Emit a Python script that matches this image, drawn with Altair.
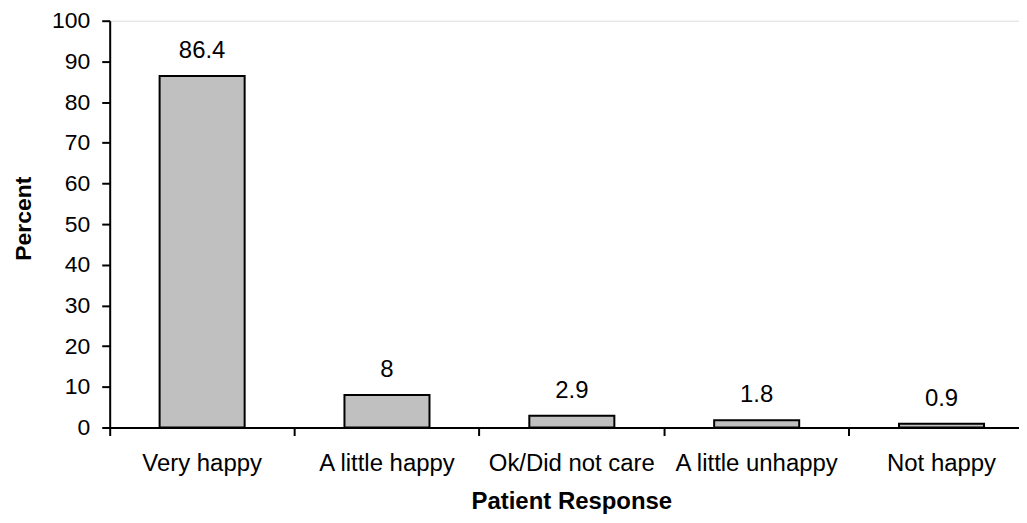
import altair as alt
import pandas as pd

categories = ["Very happy", "A little happy", "Ok/Did not care", "A little unhappy", "Not happy"]
percents = [86.4, 8, 2.9, 1.8, 0.9]
labels = ["86.4", "8", "2.9", "1.8", "0.9"]

df = pd.DataFrame({"cat": categories, "pct": percents, "lab": labels})

FONT = "Liberation Sans"
FS = 24

x = alt.X("cat:N", sort=categories, title="Patient Response",
          scale=alt.Scale(paddingInner=0, paddingOuter=0, range=[0, 927]),
          axis=alt.Axis(labelAngle=0, bandPosition=0, tickSize=8, tickWidth=2,
                        domainWidth=2, domainColor="black", tickColor="black",
                        labelPadding=16, labelFontSize=FS, labelFont=FONT,
                        labelColor="black", titleFont=FONT, titleFontSize=FS,
                        titleFontWeight="bold", titlePadding=14, titleColor="black",
                        titleX=463, titleAnchor="middle", grid=False))
y = alt.Y("pct:Q", title="Percent",
          scale=alt.Scale(domain=[0, 100], nice=False),
          axis=alt.Axis(values=list(range(0, 101, 10)), tickSize=8, tickWidth=2,
                        domainWidth=2, domainColor="black", tickColor="black",
                        labelPadding=12, labelFontSize=23, labelFont=FONT,
                        labelColor="black", titleFont=FONT, titleFontSize=23,
                        titleFontWeight="bold", titleColor="black", grid=False,
                        titleX=-86, titleY=198, titleBaseline="middle", titleAlign="center"))

bars = alt.Chart(df).mark_bar(color="#c0c0c0", stroke="black", strokeWidth=2,
                              width=alt.RelativeBandSize(0.46)).encode(x=x, y=y)
text = alt.Chart(df).mark_text(dy=-18, fontSize=FS, font=FONT, color="black",
                               baseline="alphabetic").encode(
    x=alt.X("cat:N", sort=categories), y="pct:Q", text="lab:N")

chart = (bars + text).properties(
    width=912, height=408,
    autosize=alt.AutoSizeParams(type="none"),
    padding={"left": 102, "top": 12, "right": 0, "bottom": 86},
).configure_view(stroke=None).configure(background="white")

chart.save("out.html", embed_options={"renderer": "svg", "actions": False})
